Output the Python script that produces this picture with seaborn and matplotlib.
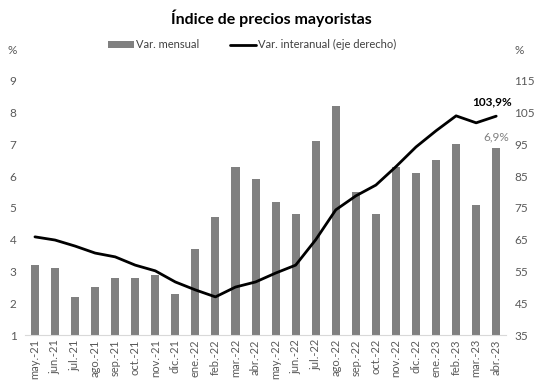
import numpy as np
import pandas as pd
import matplotlib
matplotlib.use("Agg")
import matplotlib.pyplot as plt
from matplotlib.patches import Patch
from matplotlib.lines import Line2D
import seaborn as sns

months = ["may.-21", "jun.-21", "jul.-21", "ago.-21", "sep.-21", "oct.-21", "nov.-21", "dic.-21",
          "ene.-22", "feb.-22", "mar.-22", "abr.-22", "may.-22", "jun.-22", "jul.-22", "ago.-22",
          "sep.-22", "oct.-22", "nov.-22", "dic.-22", "ene.-23", "feb.-23", "mar.-23", "abr.-23"]
var_mensual = [3.2, 3.1, 2.2, 2.5, 2.8, 2.8, 2.9, 2.3, 3.7, 4.7, 6.3, 5.9,
               5.2, 4.8, 7.1, 8.2, 5.5, 4.8, 6.3, 6.1, 6.5, 7.0, 5.1, 6.9]
var_interanual = [65.9, 64.9, 63.0, 60.8, 59.6, 57.0, 55.2, 51.7, 49.2, 47.0, 50.1, 51.7,
                  54.5, 57.0, 65.0, 74.4, 78.8, 82.2, 88.0, 94.2, 99.3, 104.0, 101.8, 103.9]
left_ticks = [1, 2, 3, 4, 5, 6, 7, 8, 9, 10]
left_labels = ["1", "2", "3", "4", "5", "6", "7", "8", "9", "%"]
right_ticks = [35, 45, 55, 65, 75, 85, 95, 105, 115, 125]
right_labels = ["35", "45", "55", "65", "75", "85", "95", "105", "115", "%"]

sns.set_theme(style="white")
plt.rcParams["font.family"] = ["Lato", "DejaVu Sans"]

df = pd.DataFrame({"mes": months, "mensual": var_mensual, "interanual": var_interanual,
                   "pos": np.arange(len(months))})

fig = plt.figure(figsize=(5.42, 3.9), dpi=100)
ax = fig.add_axes([0.046, 0.141, 0.888, 0.733])

bar_color = "#808080"
txt_color = "#595959"
sns.barplot(data=df, x="mes", y="mensual", color=bar_color, width=0.4, ax=ax,
            saturation=1, edgecolor="none")
ax.set_ylim(1, 10)
ax.set_yticks(left_ticks)
ax.set_yticklabels(left_labels)
ax.set_xlim(-0.5, len(months) - 0.5)
ax.set_xlabel("")
ax.set_ylabel("")
ax.tick_params(axis="x", rotation=90, labelsize=8, colors=txt_color, length=0, pad=3)
ax.tick_params(axis="y", labelsize=8.5, colors=txt_color, length=0, pad=6)
for s in ["top", "right", "left"]:
    ax.spines[s].set_visible(False)
ax.spines["bottom"].set_color("#d9d9d9")
ax.spines["bottom"].set_linewidth(0.8)

ax2 = ax.twinx()
sns.lineplot(data=df, x="pos", y="interanual", color="black", linewidth=2, ax=ax2)
ax2.set_ylim(35, 125)
ax2.set_yticks(right_ticks)
ax2.set_yticklabels(right_labels)
ax2.set_ylabel("")
ax2.set_xlabel("")
ax2.set_xlim(-0.5, len(months) - 0.5)
ax2.tick_params(axis="y", labelsize=8.5, colors=txt_color, length=0, pad=6)
for s in ["top", "right", "left", "bottom"]:
    ax2.spines[s].set_visible(False)

last = len(months) - 1
ax2.annotate(f"{var_interanual[-1]:.1f}%".replace(".", ","), (last, var_interanual[-1]),
             xytext=(-3, 6), textcoords="offset points", ha="center", va="bottom",
             fontsize=8.5, fontweight="bold", color="black")
ax.annotate(f"{var_mensual[-1]:.1f}%".replace(".", ","), (last, var_mensual[-1]),
            xytext=(0, 4), textcoords="offset points", ha="center", va="bottom",
            fontsize=8.5, color="#808080")

fig.suptitle("Índice de precios mayoristas", y=0.975, fontsize=11.5, fontweight="bold", color="black")

handles = [Patch(facecolor=bar_color, edgecolor="none"),
           Line2D([0], [0], color="black", linewidth=2)]
fig.legend(handles, ["Var. mensual", "Var. interanual (eje derecho)"], loc="center",
           bbox_to_anchor=(0.465, 0.885), ncol=2, frameon=False, fontsize=8,
           handlelength=2.3, handleheight=0.5, columnspacing=2.8, handletextpad=0.2,
           labelcolor="#404040")

fig.savefig("out.png", dpi=100)
